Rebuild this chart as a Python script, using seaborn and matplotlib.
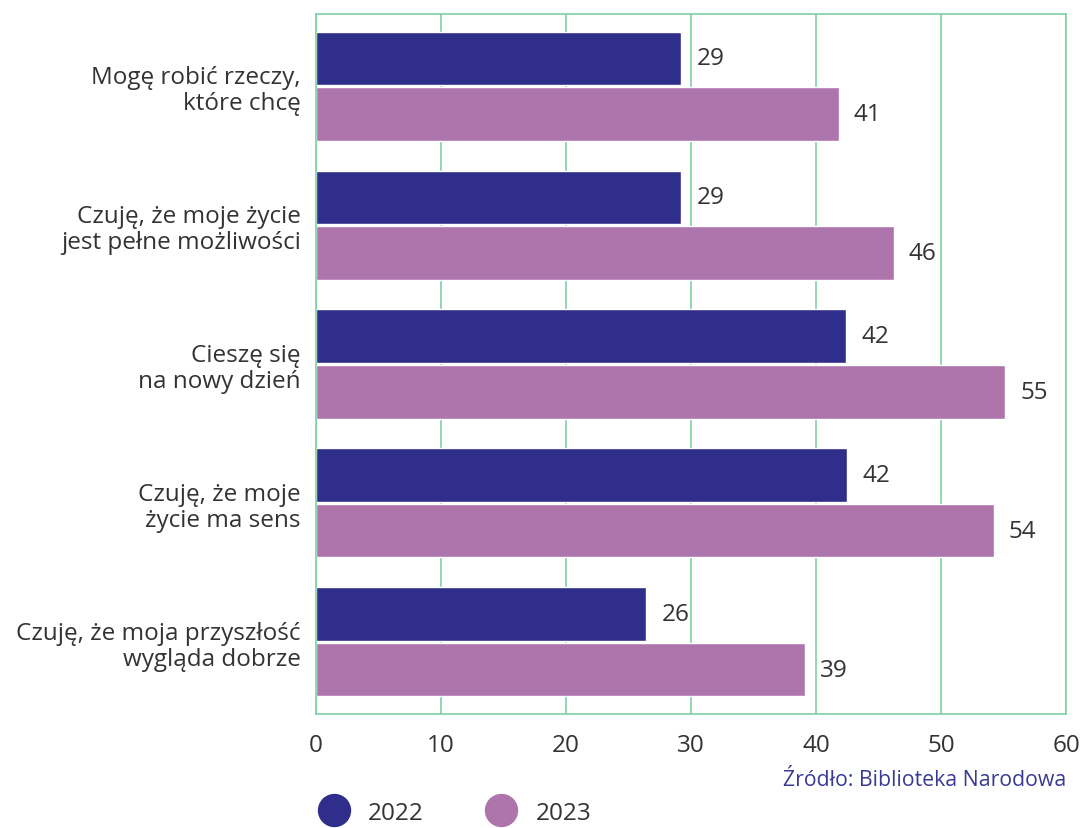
import matplotlib
matplotlib.use("Agg")
import matplotlib.pyplot as plt
from matplotlib.lines import Line2D
import seaborn as sns
import pandas as pd

categories = [
    "Mogę robić rzeczy,\nktóre chcę",
    "Czuję, że moje życie\njest pełne możliwości",
    "Cieszę się\nna nowy dzień",
    "Czuję, że moje\nżycie ma sens",
    "Czuję, że moja przyszłość\nwygląda dobrze",
]
values_2022 = [29.2, 29.2, 42.4, 42.5, 26.4]
values_2023 = [41.8, 46.2, 55.1, 54.2, 39.1]
labels_2022 = ["29", "29", "42", "42", "26"]
labels_2023 = ["41", "46", "55", "54", "39"]
years = ["2022", "2023"]

GRID = "#7fd0a4"
TEXT = "#333333"
palette = {"2022": "#302e8b", "2023": "#ae75ad"}

df = pd.DataFrame({
    "category": categories * 2,
    "year": ["2022"] * len(categories) + ["2023"] * len(categories),
    "value": values_2022 + values_2023,
})

sns.set_style("white")
plt.rcParams["font.family"] = ["Open Sans", "DejaVu Sans"]

fig = plt.figure(figsize=(10.83, 8.29), dpi=100)
ax = fig.add_axes([316 / 1083, 1 - 715 / 829, 750 / 1083, 700 / 829])

sns.barplot(data=df, y="category", x="value", hue="year", order=categories,
            hue_order=years, palette=palette, width=0.8, gap=0.035,
            orient="h", ax=ax, legend=False, saturation=1)

# value labels next to bar ends
for container, labels in zip(ax.containers, [labels_2022, labels_2023]):
    ax.bar_label(container, labels=labels, padding=11, fontsize=17.5, color=TEXT)

ax.set_xlim(0, 60)
ax.set_ylim(4.52, -0.52)
ax.set_xticks(range(0, 61, 10))
ax.set_xlabel("")
ax.set_ylabel("")
ax.grid(axis="x", color=GRID, linewidth=1.2)
ax.grid(axis="y", visible=False)
ax.set_axisbelow(True)
for s in ax.spines.values():
    s.set_color(GRID)
    s.set_linewidth(1.2)
ax.tick_params(axis="x", length=0, pad=14, labelsize=17.5, labelcolor=TEXT)
ax.tick_params(axis="y", length=0, pad=11, labelsize=17.5, labelcolor=TEXT)
for t in ax.get_yticklabels():
    t.set_multialignment("right")
    t.set_linespacing(1.1)

fig.text(1066 / 1083, 1 - 781 / 829, "Źródło: Biblioteka Narodowa",
         ha="right", va="center", fontsize=15.3, color="#3a3a96")

handles = [Line2D([], [], marker="o", linestyle="", markersize=23,
                  markerfacecolor=palette[y], markeredgecolor=palette[y])
           for y in years]
fig.legend(handles, years, loc="center left", ncol=2, frameon=False,
           bbox_to_anchor=(319 / 1083, 1 - 814 / 829), fontsize=17.5,
           labelcolor=TEXT, handletextpad=0.8, columnspacing=2.6,
           borderpad=0, borderaxespad=0, handlelength=1.2)

fig.savefig("out.png", dpi=100)
plt.close(fig)
